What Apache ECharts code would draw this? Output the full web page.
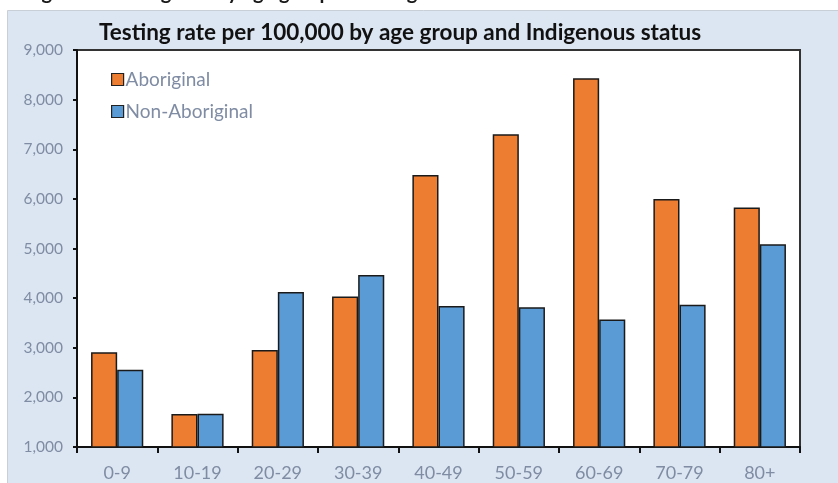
<!DOCTYPE html>
<html>
<head>
<meta charset="utf-8">
<script src="https://cdn.jsdelivr.net/npm/echarts@6/dist/echarts.min.js"></script>
<style>
  html, body { margin: 0; padding: 0; background: #ffffff; }
  #chart { width: 838px; height: 483px; }
</style>
</head>
<body>
<div id="chart"></div>
<script>
// Age groups along the x axis
const ageGroups = ['0-9', '10-19', '20-29', '30-39', '40-49', '50-59', '60-69', '70-79', '80+'];

// Testing rate per 100,000 population
const aboriginal    = [2910, 1665, 2955, 4035, 6480, 7300, 8430, 6000, 5825];
const nonAboriginal = [2555, 1670, 4125, 4465, 3840, 3815, 3570, 3865, 5085];

// Value axis range and step
const yMin = 1000;
const yMax = 9000;
const yStep = 1000;

const titleText = 'Testing rate per 100,000 by age group and Indigenous status';
const captionText = 'Figure 4: Testing rate by age group and Indigenous status';

const labelColor = '#7f8ca3';
const fontFamily = 'Lato, "Noto Sans", sans-serif';

const chart = echarts.init(document.getElementById('chart'), null, { renderer: 'canvas' });

chart.setOption({
  backgroundColor: '#ffffff',
  animation: false,
  graphic: [
    {
      type: 'text',
      left: 25,
      top: -17,
      z: -20,
      style: { text: captionText, font: 'bold 20px ' + fontFamily, fill: '#1a1a1a' }
    },
    {
      type: 'rect',
      shape: { x: 7.5, y: 10.5, width: 900, height: 500 },
      style: { fill: '#dce6f2', stroke: '#c9cfd6', lineWidth: 1 },
      z: -10,
      silent: true
    }
  ],
  title: {
    text: titleText,
    left: 94,
    top: 16,
    textStyle: { fontFamily: fontFamily, fontWeight: 'bold', fontSize: 22.5, color: '#111111' }
  },
  legend: {
    left: 106,
    top: 64,
    orient: 'vertical',
    itemWidth: 12,
    itemHeight: 12,
    itemGap: 11,
    icon: 'rect',
    textStyle: { fontFamily: fontFamily, fontSize: 19, lineHeight: 21, color: labelColor, padding: [0, 0, 0, -3] },
    itemStyle: { borderColor: '#222222', borderWidth: 1.2 },
    data: ['Aboriginal', 'Non-Aboriginal']
  },
  grid: {
    left: 77, right: 38, top: 50, bottom: 36,
    containLabel: false,
    outerBoundsMode: 'none',
    show: true,
    backgroundColor: '#ffffff',
    borderColor: '#333333',
    borderWidth: 2
  },
  xAxis: {
    type: 'category',
    data: ageGroups,
    axisLine: { lineStyle: { color: '#111111', width: 2 } },
    axisTick: { show: true, length: 6, lineStyle: { color: '#111111', width: 2 } },
    axisLabel: { fontFamily: fontFamily, fontSize: 18, color: labelColor, margin: 17 }
  },
  yAxis: {
    type: 'value',
    min: yMin,
    max: yMax,
    interval: yStep,
    axisLine: { show: true, lineStyle: { color: '#111111', width: 2 } },
    axisTick: { show: true, inside: false, length: 4, lineStyle: { color: '#111111', width: 2 } },
    splitLine: { show: false },
    axisLabel: {
      fontFamily: fontFamily,
      fontSize: 15.5,
      color: labelColor,
      margin: 14,
      formatter: v => v.toLocaleString('en-US')
    }
  },
  series: [
    {
      name: 'Aboriginal',
      type: 'bar',
      data: aboriginal,
      barGap: '0%',
      barCategoryGap: '35%',
      itemStyle: { color: '#ed7d31', borderColor: '#1a1a1a', borderWidth: 1.5 }
    },
    {
      name: 'Non-Aboriginal',
      type: 'bar',
      data: nonAboriginal,
      barGap: '0%',
      barCategoryGap: '35%',
      itemStyle: { color: '#5b9bd5', borderColor: '#1a1a1a', borderWidth: 1.5 }
    }
  ]
});
</script>
</body>
</html>
